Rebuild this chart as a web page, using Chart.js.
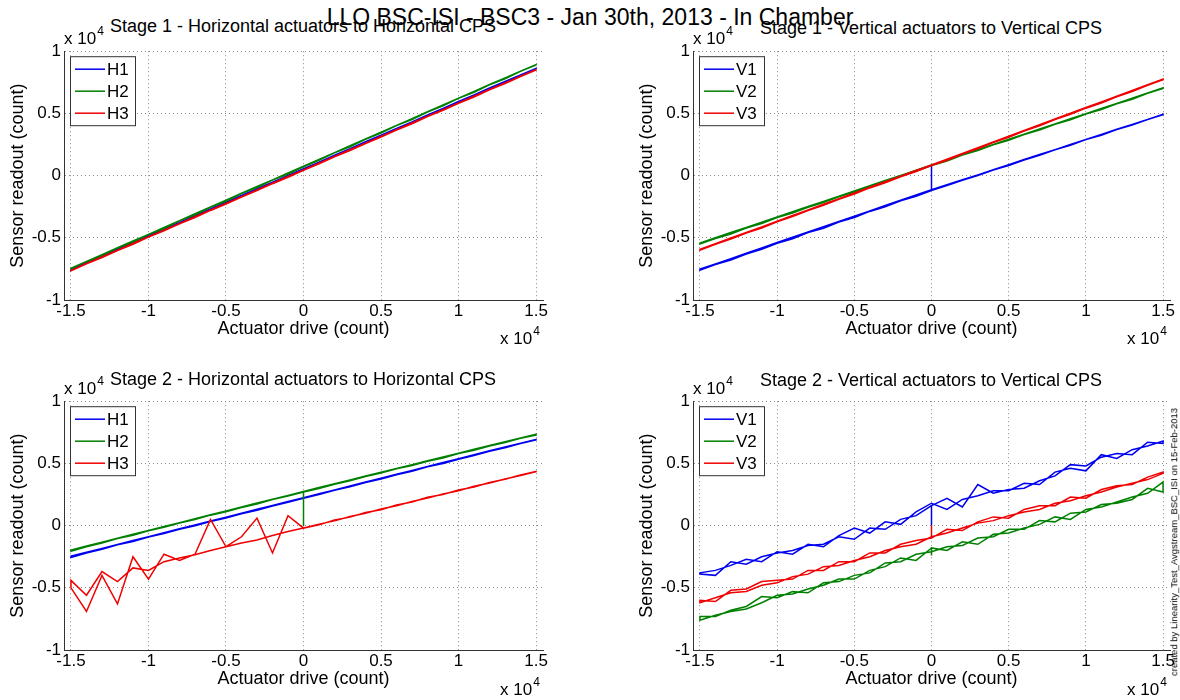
<!DOCTYPE html>
<html>
<head>
<meta charset="utf-8">
<title>LLO BSC-ISI - BSC3 linearity</title>
<script src="https://cdn.jsdelivr.net/npm/chart.js@4.4.1/dist/chart.umd.min.js"></script>
<style>
    body { margin: 0; background: #fff; }
    #fig { position: relative; width: 1180px; height: 700px; overflow: hidden; background: #fff;
           font-family: "Liberation Sans", Arial, sans-serif; color: #000; }
    #fig canvas { position: absolute; }
    .txt { position: absolute; white-space: nowrap; line-height: 1; transform: translate(-50%, -50%); }
    .exp { position: absolute; white-space: nowrap; line-height: 1; font-size: 17px; }
    .exp span { font-size: 12px; position: relative; top: -9px; margin-left: 1px; }
</style>
</head>
<body>
<div id="fig">
    <canvas id="c1" width="555" height="304" style="left:0px;top:38px"></canvas>
    <canvas id="c2" width="553" height="304" style="left:629px;top:38px"></canvas>
    <canvas id="c3" width="555" height="304" style="left:0px;top:388px"></canvas>
    <canvas id="c4" width="553" height="304" style="left:629px;top:388px"></canvas>

    <div class="txt" style="left:303px;top:26px;font-size:18px">Stage 1 - Horizontal actuators to Horizontal CPS</div>
    <div class="txt" style="left:931px;top:28px;font-size:18px">Stage 1 - Vertical actuators to Vertical CPS</div>
    <div class="txt" style="left:303px;top:379px;font-size:18px">Stage 2 - Horizontal actuators to Horizontal CPS</div>
    <div class="txt" style="left:931px;top:380px;font-size:18px">Stage 2 - Vertical actuators to Vertical CPS</div>
    <div class="txt" style="left:590px;top:17px;font-size:23px">LLO BSC-ISI - BSC3 - Jan 30th, 2013 - In Chamber</div>

    <!-- x 10^4 multipliers -->
    <div class="exp" style="left:64px;top:30px">x 10<span>4</span></div>
    <div class="exp" style="left:693px;top:30px">x 10<span>4</span></div>
    <div class="exp" style="left:64px;top:380px">x 10<span>4</span></div>
    <div class="exp" style="left:693px;top:380px">x 10<span>4</span></div>
    <div class="exp" style="left:500px;top:330px">x 10<span>4</span></div>
    <div class="exp" style="left:1127px;top:330px">x 10<span>4</span></div>
    <div class="exp" style="left:500px;top:681px">x 10<span>4</span></div>
    <div class="exp" style="left:1127px;top:681px">x 10<span>4</span></div>

    <div class="txt" style="left:1174px;top:542px;font-size:9.5px;transform:translate(-50%,-50%) rotate(-90deg)">created by Linearity_Test_Avgstream_BSC_ISI on 15-Feb-2013</div>
</div>

<script>
// actuator drive steps (count)
var drive = [-15000, -14000, -13000, -12000, -11000, -10000, -9000, -8000, -7000, -6000, -5000, -4000, -3000, -2000, -1000,
    0, 1000, 2000, 3000, 4000, 5000, 6000, 7000, 8000, 9000, 10000, 11000, 12000, 13000, 14000, 15000];

var xTicks = [-15000, -10000, -5000, 0, 5000, 10000, 15000];
var xTickLabels = ['-1.5', '-1', '-0.5', '0', '0.5', '1', '1.5'];
var yTicks = [-10000, -5000, 0, 5000, 10000];
var yTickLabels = ['-1', '-0.5', '0', '0.5', '1'];

// Stage 1 - horizontal (sensor readout, count)
var s1H1Up = [-7600, -7040, -6540, -5960, -5460, -4880, -4380, -3800, -3300, -2720, -2220, -1640, -1140, -560, -60, 500, 1020, 1600, 2100, 2680, 3180, 3760, 4260, 4840, 5340, 5920, 6420, 7000, 7500, 8080, 8600];
var s1H1Down = [-7560, -7000, -6480, -5920, -5380, -4840, -4300, -3760, -3220, -2680, -2140, -1600, -1060, -520, 20, 560, 1080, 1640, 2160, 2720, 3240, 3800, 4320, 4880, 5400, 5960, 6480, 7040, 7560, 8100, 8620];
var s1H2Up = [-7500, -6920, -6430, -5830, -5340, -4740, -4250, -3640, -3150, -2550, -2060, -1450, -970, -360, 130, 700, 1220, 1830, 2320, 2920, 3410, 4020, 4500, 5110, 5600, 6210, 6690, 7300, 7790, 8390, 8900];
var s1H2Down = [-7440, -6900, -6360, -5800, -5260, -4720, -4160, -3620, -3060, -2520, -1980, -1420, -880, -340, 220, 760, 1300, 1850, 2400, 2940, 3490, 4040, 4580, 5130, 5680, 6220, 6770, 7320, 7860, 8400, 8920];
var s1H3Up = [-7650, -7100, -6590, -6030, -5520, -4950, -4440, -3870, -3370, -2800, -2290, -1720, -1210, -650, -140, 420, 950, 1510, 2020, 2580, 3090, 3660, 4170, 4740, 5240, 5810, 6320, 6890, 7400, 7960, 8490];
var s1H3Down = [-7620, -7070, -6540, -6000, -5460, -4920, -4380, -3840, -3300, -2760, -2230, -1690, -1150, -610, -70, 460, 1000, 1540, 2080, 2610, 3150, 3690, 4230, 4770, 5300, 5840, 6380, 6920, 7450, 7990, 8520];

// Stage 1 - vertical
var s1V1Start = 800;
var s1V1Up = [-7600, -7150, -6780, -6300, -5920, -5450, -5080, -4580, -4230, -3740, -3370, -2880, -2510, -2030, -1660, -1200, -800, -370, 0, 450, 810, 1260, 1630, 2080, 2440, 2890, 3250, 3700, 4070, 4510, 4900];
var s1V1Down = [-7520, -7100, -6680, -6240, -5820, -5380, -4960, -4540, -4100, -3680, -3260, -2840, -2400, -1980, -1560, -1140, -740, -330, 60, 480, 880, 1290, 1690, 2090, 2500, 2900, 3310, 3720, 4110, 4520, 4920];
var s1V2Up = [-5500, -5060, -4690, -4220, -3850, -3380, -3000, -2540, -2160, -1700, -1320, -860, -480, -20, 360, 800, 1180, 1650, 2010, 2470, 2840, 3300, 3660, 4120, 4490, 4950, 5320, 5780, 6140, 6610, 7000];
var s1V2Down = [-5420, -5000, -4580, -4160, -3750, -3330, -2910, -2490, -2070, -1650, -1230, -810, -400, 20, 440, 860, 1260, 1680, 2090, 2500, 2920, 3330, 3740, 4150, 4570, 4980, 5400, 5800, 6220, 6640, 7060];
var s1V3Up = [-6000, -5530, -5110, -4620, -4210, -3710, -3300, -2810, -2390, -1900, -1490, -990, -580, -90, 330, 800, 1240, 1740, 2160, 2660, 3080, 3580, 4000, 4500, 4920, 5420, 5840, 6340, 6760, 7260, 7700];
var s1V3Down = [-5920, -5480, -5020, -4570, -4120, -3660, -3210, -2760, -2300, -1850, -1400, -940, -490, -40, 410, 860, 1320, 1790, 2250, 2710, 3170, 3630, 4090, 4550, 5010, 5470, 5930, 6390, 6850, 7300, 7760];

// Stage 2 - horizontal
var s2H1Up = [-2560, -2200, -1900, -1550, -1270, -920, -640, -300, -10, 330, 610, 960, 1240, 1580, 1870, 2200, 2500, 2840, 3120, 3460, 3750, 4090, 4370, 4720, 5000, 5340, 5630, 5970, 6250, 6600, 6880];
var s2H1Down = [-2460, -2140, -1830, -1510, -1200, -890, -570, -260, 50, 370, 680, 990, 1310, 1620, 1930, 2250, 2560, 2870, 3190, 3500, 3810, 4130, 4440, 4750, 5070, 5380, 5690, 6010, 6320, 6630, 6920];
var s2H2Start = -50;
var s2H2Up = [-2060, -1700, -1400, -1040, -770, -420, -140, 200, 490, 840, 1110, 1460, 1740, 2090, 2370, 2700, 2990, 3330, 3600, 3950, 4220, 4560, 4830, 5180, 5440, 5790, 6060, 6400, 6670, 7020, 7280];
var s2H2Down = [-1960, -1640, -1330, -1010, -700, -390, -70, 240, 550, 870, 1180, 1490, 1810, 2120, 2430, 2750, 3060, 3360, 3670, 3980, 4290, 4600, 4900, 5210, 5520, 5820, 6130, 6440, 6740, 7050, 7340];
var s2H3Up = [-4400, -5600, -3700, -4500, -3400, -3600, -2900, -2600, -2350, -2000, -1700, -1400, -1150, -800, -480, -200, 120, 380, 730, 990, 1330, 1590, 1940, 2210, 2540, 2800, 3160, 3420, 3750, 4020, 4330];
var s2H3Down = [-5000, -6900, -4000, -6300, -2500, -4300, -2300, -2800, -2300, 500, -1700, -900, 600, -2200, 800, -200, 60, 450, 680, 1060, 1280, 1660, 1900, 2280, 2500, 2870, 3100, 3470, 3720, 4060, 4360];

// Stage 2 - vertical
var s2V1Start = 0;
var s2V1Up = [-3900, -4000, -2900, -3100, -2500, -2200, -2000, -1600, -1500, -900, -1100, -200, -300, 500, 800, 1600, 2200, 1500, 3300, 2600, 2900, 3000, 3600, 4000, 4900, 4800, 5500, 5800, 5700, 6700, 6600];
var s2V1Down = [-3800, -3600, -3200, -2700, -2900, -2100, -2300, -1500, -1700, -800, -200, -600, 300, 100, 1100, 1800, 1300, 2100, 2400, 2800, 2800, 3400, 3300, 4300, 4600, 4400, 5700, 5400, 6100, 6400, 6800];
var s2V2Start = -2400;
var s2V2Up = [-7600, -7200, -6900, -6700, -6200, -5600, -5500, -5100, -4800, -4300, -4300, -3600, -3300, -2600, -2800, -1800, -2000, -1300, -1500, -700, -600, -200, 100, 700, 500, 1300, 1500, 1900, 2300, 2600, 3500];
var s2V2Down = [-7300, -7300, -6800, -6500, -5700, -5800, -5300, -5400, -4600, -4500, -4000, -3800, -3000, -2900, -2300, -2100, -1700, -1600, -1000, -900, -300, -300, 400, 300, 1000, 1100, 1700, 1800, 2100, 3000, 2700];
var s2V3Start = 0;
var s2V3Up = [-6200, -5800, -5400, -5300, -4800, -4600, -4100, -3900, -3300, -3200, -2800, -2500, -2000, -1700, -1500, -900, -600, -200, 200, 400, 800, 1100, 1300, 1800, 2000, 2400, 2700, 3100, 3400, 3700, 4200];
var s2V3Down = [-6000, -6100, -5200, -5100, -4500, -4400, -4300, -3600, -3600, -2900, -2900, -2200, -2200, -1500, -1200, -1000, -300, -400, 300, 700, 600, 1300, 1600, 1600, 2300, 2200, 2900, 3200, 3300, 3900, 4300];

var lineColors = ['#0000f0', '#008000', '#f00000'];
var fontFamily = '"Liberation Sans", Arial, sans-serif';

// the sweep starts at 0, goes up to +max, down to -max and back to 0
function sweep(up, down, start) {
    var zero = drive.indexOf(0);
    var pts = [];
    if (start !== null) pts.push({ x: 0, y: start });
    for (var i = zero; i < drive.length; i++) pts.push({ x: drive[i], y: up[i] });
    for (var j = drive.length - 1; j >= 0; j--) pts.push({ x: drive[j], y: down[j] });
    for (var k = 0; k <= zero; k++) pts.push({ x: drive[k], y: up[k] });
    return pts;
}

// legend box drawn inside the top-left corner of the axes
var boxLegend = {
    id: 'boxLegend',
    afterDraw: function (chart) {
        var ctx = chart.ctx;
        var a = chart.chartArea;
        var x0 = a.left + 6, y0 = a.top + 5;
        ctx.save();
        ctx.fillStyle = '#fff';
        ctx.fillRect(x0, y0, 65, 69);
        ctx.strokeStyle = '#333';
        ctx.lineWidth = 1;
        ctx.strokeRect(x0 + 0.5, y0 + 0.5, 65, 69);
        ctx.font = '17px ' + fontFamily;
        ctx.textBaseline = 'middle';
        chart.data.datasets.forEach(function (ds, i) {
            var y = y0 + 13 + i * 22;
            ctx.strokeStyle = ds.borderColor;
            ctx.lineWidth = 1.5;
            ctx.beginPath();
            ctx.moveTo(x0 + 5, y);
            ctx.lineTo(x0 + 35, y);
            ctx.stroke();
            ctx.fillStyle = '#000';
            ctx.fillText(ds.label, x0 + 37, y + 1);
        });
        ctx.restore();
    }
};

function makeChart(id, names, series) {
    var datasets = series.map(function (pts, i) {
        return {
            label: names[i],
            data: pts,
            showLine: true,
            borderColor: lineColors[i],
            borderWidth: 1.5,
            pointRadius: 0,
            tension: 0,
            order: series.length - i
        };
    });
    var tickFont = { family: fontFamily, size: 17 };
    var titleFont = { family: fontFamily, size: 18 };
    return new Chart(document.getElementById(id), {
        type: 'scatter',
        data: { datasets: datasets },
        plugins: [boxLegend],
        options: {
            responsive: false,
            animation: false,
            layout: { padding: { top: 10, right: 12, left: 0, bottom: 0 } },
            plugins: { legend: { display: false }, tooltip: { enabled: false } },
            scales: {
                x: {
                    type: 'linear', min: -15450, max: 15450,
                    afterBuildTicks: function (scale) {
                        scale.ticks = xTicks.map(function (v) { return { value: v }; });
                    },
                    afterFit: function (scale) { scale.height = 42; },
                    ticks: {
                        color: '#000', font: tickFont, padding: 1, maxRotation: 0,
                        callback: function (v) { return xTickLabels[xTicks.indexOf(v)]; }
                    },
                    grid: { color: '#8a8a8a', lineWidth: 1, drawTicks: false },
                    border: { display: true, color: '#333', width: 1, dash: [1, 3] },
                    title: { display: true, text: 'Actuator drive (count)', color: '#000', font: titleFont, padding: { top: 0, bottom: 2 } }
                },
                y: {
                    type: 'linear', min: -10000, max: 10000,
                    afterBuildTicks: function (scale) {
                        scale.ticks = yTicks.map(function (v) { return { value: v }; });
                    },
                    afterFit: function (scale) { scale.width = 64; },
                    ticks: {
                        color: '#000', font: tickFont, padding: 3,
                        callback: function (v) { return yTickLabels[yTicks.indexOf(v)]; }
                    },
                    grid: { color: '#8a8a8a', lineWidth: 1, drawTicks: false },
                    border: { display: true, color: '#333', width: 1, dash: [1, 3] },
                    title: { display: true, text: 'Sensor readout (count)', color: '#000', font: titleFont, padding: { top: 7, bottom: 0 } }
                }
            }
        }
    });
}

window.onload = function () {
    makeChart('c1', ['H1', 'H2', 'H3'], [
        sweep(s1H1Up, s1H1Down, null),
        sweep(s1H2Up, s1H2Down, null),
        sweep(s1H3Up, s1H3Down, null)
    ]);
    makeChart('c2', ['V1', 'V2', 'V3'], [
        sweep(s1V1Up, s1V1Down, s1V1Start),
        sweep(s1V2Up, s1V2Down, null),
        sweep(s1V3Up, s1V3Down, null)
    ]);
    makeChart('c3', ['H1', 'H2', 'H3'], [
        sweep(s2H1Up, s2H1Down, null),
        sweep(s2H2Up, s2H2Down, s2H2Start),
        sweep(s2H3Up, s2H3Down, null)
    ]);
    makeChart('c4', ['V1', 'V2', 'V3'], [
        sweep(s2V1Up, s2V1Down, s2V1Start),
        sweep(s2V2Up, s2V2Down, s2V2Start),
        sweep(s2V3Up, s2V3Down, s2V3Start)
    ]);
};
</script>
</body>
</html>
